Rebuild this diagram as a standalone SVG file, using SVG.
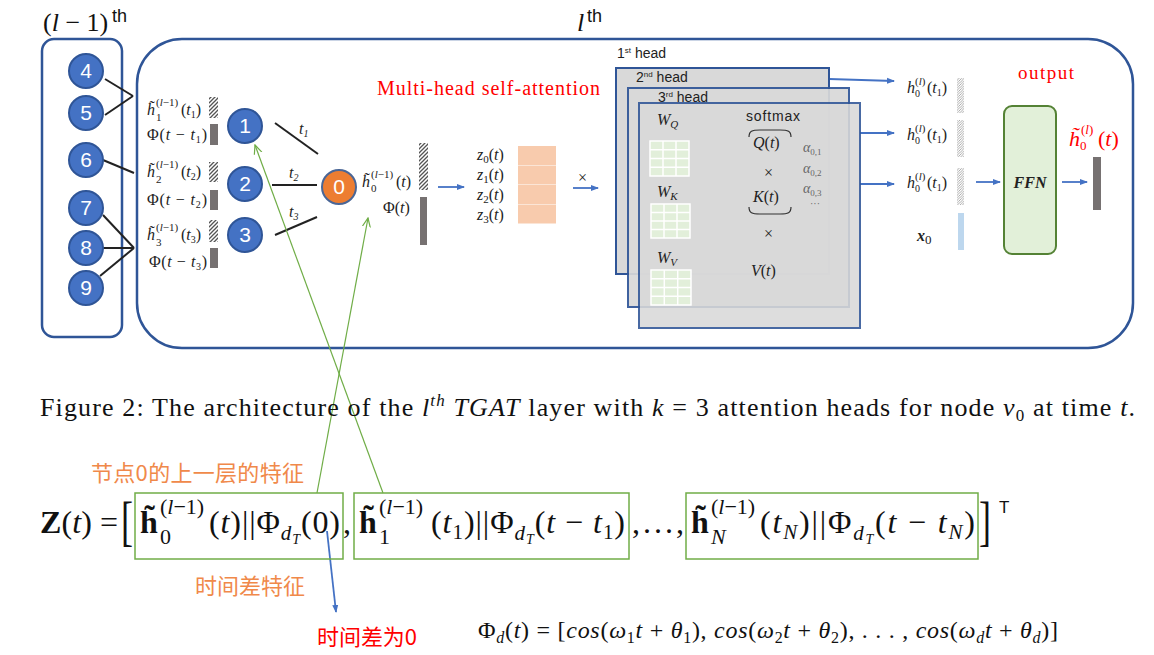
<svg xmlns="http://www.w3.org/2000/svg" width="1154" height="655" viewBox="0 0 1154 655">
<style>
.box{fill:#fff;stroke:#2f5597;stroke-width:2.5}
.nd{fill:#4472c4;stroke:#2f5597;stroke-width:2}
.nd0{fill:#ed7d31;stroke:#4a6696;stroke-width:2}
.nt{font-family:"Liberation Sans",sans-serif;font-size:21px;fill:#fff;text-anchor:middle}
.m{font-family:"Liberation Serif",serif;font-size:16px;fill:#222}
.ms{font-family:"Liberation Serif",serif;font-size:11px;fill:#222}
.i{font-style:italic}
.ln{stroke:#222;stroke-width:2;fill:none}
.ba{stroke:#4472c4;stroke-width:1.8;fill:none;marker-end:url(#ab)}
.ga{stroke:#70ad47;stroke-width:1.2;fill:none;marker-end:url(#ag)}
.gb{fill:none;stroke:#70ad47;stroke-width:1.5}
.bar{fill:#767171}
.h1{fill:url(#hatch)}
.h2{fill:url(#hatch2)}
.head{fill:#d9d9d9;stroke:#2f5597;stroke-width:2}
.hl{font-family:"Liberation Sans",sans-serif;font-size:14px;fill:#222}
.grid{fill:#e2efda;stroke:#fff;stroke-width:1.5}
.red{font-family:"Liberation Serif",serif;fill:#ff0000}
.f{font-family:"Liberation Serif",serif;fill:#111}
.cn{font-family:"Noto Sans CJK SC",sans-serif;font-size:22px}
</style>
<defs>
<pattern id="hatch" width="4" height="4" patternUnits="userSpaceOnUse">
<rect width="4" height="4" fill="#fff"/>
<path d="M-1,1 L1,-1 M0,4 L4,0 M3,5 L5,3" stroke="#555" stroke-width="1.3"/>
</pattern>
<pattern id="hatch2" width="2.5" height="2.5" patternUnits="userSpaceOnUse">
<rect width="2.5" height="2.5" fill="#fff"/>
<path d="M0,2.5 L2.5,0" stroke="#999" stroke-width="0.8"/>
</pattern>
<marker id="ab" markerWidth="8" markerHeight="8" refX="7" refY="4" orient="auto" markerUnits="userSpaceOnUse">
<path d="M0,1 L8,4 L0,7 Z" fill="#4472c4"/>
</marker>
<marker id="ag" markerWidth="10" markerHeight="10" refX="9" refY="5" orient="auto" markerUnits="userSpaceOnUse">
<path d="M0,1 L9,5 L0,9" fill="none" stroke="#70ad47" stroke-width="1.2"/>
</marker>
</defs>
<rect width="1154" height="655" fill="#fff"/>

<text x="43" y="31" font-family="Liberation Serif,serif" font-size="26" fill="#111">(<tspan class="i">l</tspan> − 1)</text>
<text x="112" y="22" font-family="Liberation Sans,sans-serif" font-size="18" fill="#111">th</text>
<text x="577" y="31" font-family="Liberation Serif,serif" font-size="26" font-style="italic" fill="#111">l</text>
<text x="587" y="22" font-family="Liberation Sans,sans-serif" font-size="18" fill="#111">th</text>

<g id="layer-prev"><rect class="box" x="42" y="39" width="80" height="298" rx="12"/></g>
<g id="layer-l"><rect class="box" x="137" y="39" width="996" height="309" rx="45"/></g>

<g id="connectors">
<line class="ln" x1="105" y1="79" x2="133" y2="96"/>
<line class="ln" x1="105" y1="115" x2="133" y2="96"/>
<line class="ln" x1="103" y1="160" x2="134" y2="173"/>
<line class="ln" x1="103" y1="215" x2="134" y2="248"/>
<line class="ln" x1="102" y1="248" x2="134" y2="248"/>
<line class="ln" x1="100" y1="276" x2="134" y2="248"/>
<line class="ln" x1="275" y1="123" x2="318" y2="154"/>
<line class="ln" x1="272" y1="185" x2="317" y2="185"/>
<line class="ln" x1="275" y1="235" x2="317" y2="217"/>
<line class="ba" x1="438" y1="187" x2="464" y2="187"/>
<line class="ba" x1="573" y1="188" x2="598" y2="188"/>
<line class="ba" x1="705" y1="149" x2="729" y2="149"/>
<line class="ba" x1="705" y1="204" x2="729" y2="204"/>
<line class="ba" x1="705" y1="270" x2="729" y2="270"/>
<line class="ba" x1="829" y1="79" x2="894" y2="81"/>
<line class="ba" x1="860" y1="133" x2="894" y2="133"/>
<line class="ba" x1="860" y1="184" x2="894" y2="184"/>
<line class="ba" x1="976" y1="182" x2="1000" y2="182"/>
<line class="ba" x1="1062" y1="182" x2="1087" y2="182"/>
<line class="ga" x1="317" y1="493" x2="368" y2="218"/>
<line class="ga" x1="383" y1="493" x2="255" y2="145"/>
<line class="ba" x1="327" y1="531" x2="336" y2="612" stroke-width="1.2"/>
</g>

<g id="node4"><circle class="nd" cx="86" cy="71" r="17"/><text class="nt" x="86" y="78">4</text></g>
<g id="node5"><circle class="nd" cx="86" cy="113" r="17"/><text class="nt" x="86" y="120">5</text></g>
<g id="node6"><circle class="nd" cx="86" cy="160" r="17"/><text class="nt" x="86" y="167">6</text></g>
<g id="node7"><circle class="nd" cx="86" cy="208" r="17"/><text class="nt" x="86" y="215">7</text></g>
<g id="node8"><circle class="nd" cx="86" cy="248" r="17"/><text class="nt" x="86" y="255">8</text></g>
<g id="node9"><circle class="nd" cx="86" cy="288" r="17"/><text class="nt" x="86" y="295">9</text></g>
<g id="node1"><circle class="nd" cx="245" cy="126" r="17"/><text class="nt" x="245" y="133">1</text></g>
<g id="node2"><circle class="nd" cx="245" cy="184" r="17"/><text class="nt" x="245" y="191">2</text></g>
<g id="node3"><circle class="nd" cx="245" cy="235" r="17"/><text class="nt" x="245" y="242">3</text></g>
<g id="node0"><circle class="nd0" cx="339" cy="187" r="17"/><text class="nt" x="339" y="194">0</text></g>

<g id="edge-labels">
<text class="m i" x="299" y="134">t<tspan font-size="10" dy="3">1</tspan></text>
<text class="m i" x="289" y="178">t<tspan font-size="10" dy="3">2</tspan></text>
<text class="m i" x="289" y="217">t<tspan font-size="10" dy="3">3</tspan></text>
</g>

<g id="feat1">
<text class="m i" x="147" y="115" font-size="17">h̃</text>
<text class="ms" x="156" y="106">(<tspan class="i">l</tspan>−1)</text>
<text class="ms" x="156" y="121">1</text>
<text class="m" x="181" y="115">(<tspan class="i">t</tspan><tspan font-size="10" dy="3">1</tspan><tspan dy="-3">)</tspan></text>
<rect class="h1" x="209" y="97" width="9" height="21"/>
<text class="m" x="147" y="140" textLength="60">Φ(<tspan class="i">t</tspan> − <tspan class="i">t</tspan><tspan font-size="10" dy="3">1</tspan><tspan dy="-3">)</tspan></text>
<rect class="bar" x="210" y="124" width="8" height="21"/>
</g>
<g id="feat2">
<text class="m i" x="147" y="177" font-size="17">h̃</text>
<text class="ms" x="156" y="168">(<tspan class="i">l</tspan>−1)</text>
<text class="ms" x="156" y="183">2</text>
<text class="m" x="181" y="177">(<tspan class="i">t</tspan><tspan font-size="10" dy="3">2</tspan><tspan dy="-3">)</tspan></text>
<rect class="h1" x="209" y="162" width="9" height="20"/>
<text class="m" x="147" y="205" textLength="60">Φ(<tspan class="i">t</tspan> − <tspan class="i">t</tspan><tspan font-size="10" dy="3">2</tspan><tspan dy="-3">)</tspan></text>
<rect class="bar" x="210" y="190" width="8" height="20"/>
</g>
<g id="feat3">
<text class="m i" x="147" y="240" font-size="17">h̃</text>
<text class="ms" x="156" y="231">(<tspan class="i">l</tspan>−1)</text>
<text class="ms" x="156" y="246">3</text>
<text class="m" x="181" y="240">(<tspan class="i">t</tspan><tspan font-size="10" dy="3">3</tspan><tspan dy="-3">)</tspan></text>
<rect class="h1" x="209" y="220" width="9" height="22"/>
<text class="m" x="149" y="267" textLength="58">Φ(<tspan class="i">t</tspan> − <tspan class="i">t</tspan><tspan font-size="10" dy="3">3</tspan><tspan dy="-3">)</tspan></text>
<rect class="bar" x="210" y="248" width="8" height="20"/>
</g>
<g id="feat0">
<text class="m i" x="362" y="187" font-size="17">h̃</text>
<text class="ms" x="371" y="178">(<tspan class="i">l</tspan>−1)</text>
<text class="ms" x="371" y="192">0</text>
<text class="m" x="396" y="187">(<tspan class="i">t</tspan>)</text>
<rect class="h1" x="419" y="143" width="9" height="47"/>
<text class="m" x="383" y="213">Φ(<tspan class="i">t</tspan>)</text>
<rect class="bar" x="420" y="197" width="7" height="48"/>
</g>

<text class="red" x="377" y="95" font-size="20" textLength="223">Multi-head self-attention</text>

<g id="zvec">
<text class="m i" x="477" y="160" font-size="17">z<tspan font-size="11" dy="3" font-style="normal">0</tspan><tspan dy="-3" font-style="normal">(</tspan>t<tspan font-style="normal">)</tspan></text>
<text class="m i" x="477" y="180" font-size="17">z<tspan font-size="11" dy="3" font-style="normal">1</tspan><tspan dy="-3" font-style="normal">(</tspan>t<tspan font-style="normal">)</tspan></text>
<text class="m i" x="477" y="200" font-size="17">z<tspan font-size="11" dy="3" font-style="normal">2</tspan><tspan dy="-3" font-style="normal">(</tspan>t<tspan font-style="normal">)</tspan></text>
<text class="m i" x="477" y="220" font-size="17">z<tspan font-size="11" dy="3" font-style="normal">3</tspan><tspan dy="-3" font-style="normal">(</tspan>t<tspan font-style="normal">)</tspan></text>
<rect x="518" y="146" width="38" height="19" fill="#f8cbad"/>
<rect x="518" y="165.5" width="38" height="19" fill="#f8cbad"/>
<rect x="518" y="185" width="38" height="19" fill="#f8cbad"/>
<rect x="518" y="204.5" width="38" height="19" fill="#f8cbad"/>
<text class="m" x="578" y="183" font-size="20">×</text>
</g>

<g id="heads">
<rect class="head" x="616" y="68" width="213" height="206"/>
<rect class="head" x="628" y="88" width="221" height="219" opacity="0.92"/>
<rect class="head" x="639" y="103" width="221" height="225" opacity="0.88"/>
<text class="hl" x="617" y="58">1<tspan font-size="8" dy="-5">st</tspan><tspan dy="5"> head</tspan></text>
<text class="hl" x="636" y="82">2<tspan font-size="8" dy="-5">nd</tspan><tspan dy="5">  head</tspan></text>
<text class="hl" x="658" y="102">3<tspan font-size="8" dy="-5">rd</tspan><tspan dy="5"> head</tspan></text>
</g>

<g id="head-content">
<text class="m i" x="657" y="125" font-size="18">W<tspan font-size="11" dy="3">Q</tspan></text>
<text class="m i" x="657" y="197" font-size="18">W<tspan font-size="11" dy="3">K</tspan></text>
<text class="m i" x="657" y="263" font-size="18">W<tspan font-size="11" dy="3">V</tspan></text>
<g class="grid">
<rect x="650" y="141" width="39" height="35"/>
<path d="M663,141 V176 M676,141 V176 M650,149.75 H689 M650,158.5 H689 M650,167.25 H689"/>
<rect x="651" y="204" width="39" height="34"/>
<path d="M664,204 V238 M677,204 V238 M651,212.5 H690 M651,221 H690 M651,229.5 H690"/>
<rect x="651" y="270" width="40" height="35"/>
<path d="M664.3,270 V305 M677.7,270 V305 M651,278.75 H691 M651,287.5 H691 M651,296.25 H691"/>
</g>
<text class="hl" x="746" y="121" textLength="54">softmax</text>
<path d="M749,137 C749,131 752,130 760,130 L780,130 C788,130 791,131 791,137" fill="none" stroke="#333" stroke-width="1.2"/>
<text class="m i" x="753" y="148" font-size="19">Q<tspan font-style="normal">(</tspan>t<tspan font-style="normal">)</tspan></text>
<text class="m" x="764" y="178" font-size="17">×</text>
<text class="m i" x="753" y="202" font-size="19">K<tspan font-style="normal">(</tspan>t<tspan font-style="normal">)</tspan></text>
<path d="M749,207 C749,213 752,214 760,214 L780,214 C788,214 791,213 791,207" fill="none" stroke="#333" stroke-width="1.2"/>
<text class="m" x="764" y="239" font-size="17">×</text>
<text class="m i" x="751" y="276" font-size="19">V<tspan font-style="normal">(</tspan>t<tspan font-style="normal">)</tspan></text>
<g fill="#666" font-family="Liberation Serif,serif" font-size="14" font-style="italic">
<text x="803" y="152">α<tspan font-size="9" dy="3" font-style="normal">0,1</tspan></text>
<text x="803" y="173">α<tspan font-size="9" dy="3" font-style="normal">0,2</tspan></text>
<text x="803" y="193">α<tspan font-size="9" dy="3" font-style="normal">0,3</tspan></text>
<text x="810" y="207" font-style="normal" font-size="10">···</text>
</g>
</g>

<g id="outputs">
<text class="m i" x="907" y="93">h<tspan font-size="10" dy="4" font-style="normal">0</tspan></text>
<text class="ms" x="915" y="85">(<tspan class="i">l</tspan>)</text>
<text class="m" x="927" y="93">(<tspan class="i">t</tspan><tspan font-size="10" dy="3">1</tspan><tspan dy="-3">)</tspan></text>
<rect class="h2" x="957" y="78" width="7" height="35"/>
<text class="m i" x="907" y="140">h<tspan font-size="10" dy="4" font-style="normal">0</tspan></text>
<text class="ms" x="915" y="132">(<tspan class="i">l</tspan>)</text>
<text class="m" x="927" y="140">(<tspan class="i">t</tspan><tspan font-size="10" dy="3">1</tspan><tspan dy="-3">)</tspan></text>
<rect class="h2" x="957" y="120" width="7" height="37"/>
<text class="m i" x="907" y="188">h<tspan font-size="10" dy="4" font-style="normal">0</tspan></text>
<text class="ms" x="915" y="180">(<tspan class="i">l</tspan>)</text>
<text class="m" x="927" y="188">(<tspan class="i">t</tspan><tspan font-size="10" dy="3">1</tspan><tspan dy="-3">)</tspan></text>
<rect class="h2" x="957" y="168" width="7" height="37"/>
<text class="m i" x="917" y="241" font-size="20" font-weight="bold">x<tspan font-size="13" dy="3" font-style="normal" font-weight="normal">0</tspan></text>
<rect x="958" y="213" width="6" height="37" fill="#bdd7ee"/>
</g>

<g id="ffn">
<rect x="1004" y="106" width="52" height="148" rx="8" fill="#e2f0d9" stroke="#548235" stroke-width="2"/>
<text class="m i" x="1030" y="188" font-size="15" text-anchor="middle" font-weight="bold">FFN</text>
</g>
<text class="red" x="1018" y="79" font-size="19" textLength="56">output</text>
<g id="result">
<text class="red i" x="1069" y="146" font-size="22">h̃<tspan font-size="13" dy="4" font-style="normal">0</tspan></text>
<text class="red" x="1081" y="134" font-size="13">(<tspan class="i">l</tspan>)</text>
<text class="red" x="1098" y="146" font-size="22">(<tspan class="i">t</tspan>)</text>
<rect class="bar" x="1093" y="157" width="8" height="53"/>
</g>

<text class="f" x="40" y="416" font-size="26" textLength="1095" lengthAdjust="spacing">Figure 2: The architecture of the <tspan class="i">l</tspan><tspan class="i" font-size="17" dy="-10">th</tspan><tspan dy="10"> </tspan><tspan class="i">TGAT</tspan> layer with <tspan class="i">k</tspan> = 3 attention heads for node <tspan class="i">v</tspan><tspan font-size="17" dy="5">0</tspan><tspan dy="-5"> at time </tspan><tspan class="i">t</tspan>.</text>

<text class="cn" x="91" y="481" fill="#f0894a" textLength="213">节点0的上一层的特征</text>

<g id="formula">
<text class="f" x="40" y="533" font-size="32" textLength="78"><tspan font-weight="bold">Z</tspan>(<tspan class="i">t</tspan>) =</text>
<text class="f" transform="translate(121,540) scale(1,1.55)" font-size="36">[</text>
<rect class="gb" x="135" y="493" width="208" height="66"/>
<text class="f" x="140" y="533" font-size="32" font-weight="bold">h̃</text>
<text class="f" x="160" y="514" font-size="22">(<tspan class="i">l</tspan>−1)</text>
<text class="f" x="160" y="544" font-size="22">0</text>
<text class="f" x="209" y="533" font-size="32" textLength="131">(<tspan class="i">t</tspan>)||Φ<tspan font-size="21" dy="7" class="i">d</tspan><tspan font-size="14" dy="4" class="i">T</tspan><tspan dy="-11">(0)</tspan></text>
<text class="f" x="343" y="533" font-size="32">,</text>
<rect class="gb" x="354" y="493" width="275" height="66"/>
<text class="f" x="359" y="533" font-size="32" font-weight="bold">h̃</text>
<text class="f" x="379" y="514" font-size="22">(<tspan class="i">l</tspan>−1)</text>
<text class="f" x="379" y="544" font-size="22">1</text>
<text class="f" x="431" y="533" font-size="32" textLength="194">(<tspan class="i">t</tspan><tspan font-size="21" dy="6">1</tspan><tspan dy="-6">)||Φ</tspan><tspan font-size="21" dy="7" class="i">d</tspan><tspan font-size="14" dy="4" class="i">T</tspan><tspan dy="-11">(</tspan><tspan class="i">t</tspan> − <tspan class="i">t</tspan><tspan font-size="21" dy="6">1</tspan><tspan dy="-6">)</tspan></text>
<text class="f" x="632" y="533" font-size="32" textLength="52">, . . . ,</text>
<rect class="gb" x="686" y="493" width="292" height="66"/>
<text class="f" x="691" y="533" font-size="32" font-weight="bold">h̃</text>
<text class="f" x="711" y="514" font-size="22">(<tspan class="i">l</tspan>−1)</text>
<text class="f i" x="711" y="544" font-size="22">N</text>
<text class="f" x="760" y="533" font-size="32" textLength="215">(<tspan class="i">t</tspan><tspan font-size="21" dy="6" class="i">N</tspan><tspan dy="-6">)||Φ</tspan><tspan font-size="21" dy="7" class="i">d</tspan><tspan font-size="14" dy="4" class="i">T</tspan><tspan dy="-11">(</tspan><tspan class="i">t</tspan> − <tspan class="i">t</tspan><tspan font-size="21" dy="6" class="i">N</tspan><tspan dy="-6">)</tspan></text>
<text class="f" transform="translate(979,540) scale(1,1.55)" font-size="36">]</text>
<text x="999" y="513" font-family="Liberation Sans,sans-serif" font-size="17" fill="#111">T</text>
</g>

<text class="cn" x="195" y="594" fill="#f0894a" textLength="110">时间差特征</text>
<text class="cn" x="317" y="645" fill="#ff0000" textLength="100">时间差为0</text>

<text class="f" x="478" y="638" font-size="24" textLength="580">Φ<tspan font-size="16" dy="5" class="i">d</tspan><tspan dy="-5">(</tspan><tspan class="i">t</tspan>) = [<tspan class="i">cos</tspan>(<tspan class="i">ω</tspan><tspan font-size="16" dy="5">1</tspan><tspan dy="-5" class="i">t</tspan> + <tspan class="i">θ</tspan><tspan font-size="16" dy="5">1</tspan><tspan dy="-5">), </tspan><tspan class="i">cos</tspan>(<tspan class="i">ω</tspan><tspan font-size="16" dy="5">2</tspan><tspan dy="-5" class="i">t</tspan> + <tspan class="i">θ</tspan><tspan font-size="16" dy="5">2</tspan><tspan dy="-5">), . . . , </tspan><tspan class="i">cos</tspan>(<tspan class="i">ω</tspan><tspan font-size="16" dy="5" class="i">d</tspan><tspan dy="-5" class="i">t</tspan> + <tspan class="i">θ</tspan><tspan font-size="16" dy="5" class="i">d</tspan><tspan dy="-5">)]</tspan></text>
</svg>
